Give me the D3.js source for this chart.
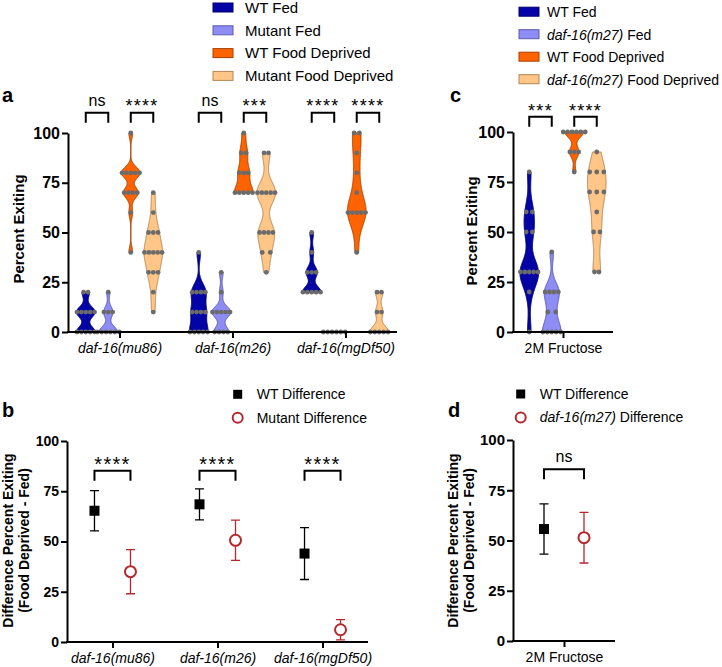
<!DOCTYPE html>
<html>
<head>
<meta charset="utf-8">
<script src="https://cdn.jsdelivr.net/npm/d3@7"></script>
<style>
  body { margin: 0; background: #fff; }
  svg { font-family: Arial, "Liberation Sans", sans-serif; }
  text { white-space: pre; }
</style>
</head>
<body>
<svg id="chart" width="722" height="667"></svg>
<script>
// ---- data ----
const yTicks = [0, 25, 50, 75, 100];

// panel a: percent exiting per plate
const strainsA = ['daf-16(mu86)', 'daf-16(m26)', 'daf-16(mgDf50)'];
const groupsA = ['WT Fed', 'Mutant Fed', 'WT Food Deprived', 'Mutant Food Deprived'];
const wtFedA = [
  [0, 0, 0, 0, 0, 10, 10, 10, 10, 10, 20, 20],
  [0, 0, 0, 0, 0, 10, 10, 10, 10, 20, 20, 20, 20, 40],
  [20, 20, 20, 20, 20, 30, 30, 30, 40, 50]
];
const mutFedA = [
  [0, 0, 0, 0, 0, 0, 10, 10, 10, 20],
  [0, 0, 0, 0, 10, 10, 10, 10, 10, 20, 30],
  [0, 0, 0, 0, 0, 0]
];
const wtFdA = [
  [40, 60, 70, 70, 70, 70, 80, 80, 80, 80, 80, 100],
  [70, 70, 70, 70, 70, 80, 80, 80, 90, 90, 100],
  [40, 60, 60, 60, 60, 60, 70, 80, 90, 100, 100]
];
const mutFdA = [
  [10, 20, 30, 30, 30, 40, 40, 40, 40, 40, 50, 50, 50, 60, 70],
  [30, 40, 40, 50, 50, 50, 50, 70, 70, 70, 70, 70, 90, 90],
  [0, 0, 0, 0, 0, 10, 10, 20, 20]
];
const sigA = [['ns', '****'], ['ns', '***'], ['****', '****']];

// panel c: 2M fructose
const strainsC = ['2M Fructose'];
const groupsC = ['WT Fed', 'daf-16(m27) Fed', 'WT Food Deprived', 'daf-16(m27) Food Deprived'];
const wtFedC = [[0, 20, 30, 30, 30, 30, 30, 50, 50, 60, 60, 80]];
const mutFedC = [[0, 0, 0, 0, 0, 10, 10, 20, 20, 20, 20, 40]];
const wtFdC = [[80, 90, 90, 90, 100, 100, 100, 100, 100, 100]];
const mutFdC = [[30, 30, 50, 50, 60, 70, 70, 70, 80, 80, 80, 90]];
const sigC = [['***', '****']];

// panel b: difference (food deprived - fed), mean and error
const diffGroupsB = ['WT Difference', 'Mutant Difference'];
const wtDiffB = [65.3, 68.5, 44.0];
const wtErrB = [10.0, 7.7, 12.9];
const mutDiffB = [35.0, 50.6, 6.1];
const mutErrB = [11.0, 10.0, 5.0];
const sigB = ['****', '****', '****'];

// panel d
const diffGroupsD = ['WT Difference', 'daf-16(m27) Difference'];
const wtDiffD = [55.7];
const wtErrD = [12.5];
const mutDiffD = [51.4];
const mutErrD = [12.6];
const sigD = ['ns'];

// ---- styles ----
const fills = ['#0303a6', '#8d8df5', '#ff6300', '#ffc688'];
const strokes = ['#00006e', '#5a5aae', '#a84000', '#b58552'];
const dotColor = '#6b6b6b';
const red = '#b5292e';

const svg = d3.select('#chart');

// italic for the gene names
function richText(sel, label) {
  sel.text(null);
  const m = label.match(/^(daf-16\([^)]*\))(.*)$/);
  if (m) {
    sel.append('tspan').attr('font-style', 'italic').text(m[1]);
    if (m[2]) sel.append('tspan').text(m[2]);
  } else {
    sel.text(label);
  }
}

function styleAxis(g, size, bold) {
  g.select('.domain').attr('stroke', '#000').attr('stroke-width', 2);
  g.selectAll('.tick line').attr('stroke', '#000').attr('stroke-width', 2);
  g.selectAll('.tick text').attr('fill', '#000').attr('font-size', size)
    .attr('font-weight', bold ? 'bold' : 'normal');
}

function drawAxes(o, x, y) {
  const ya = svg.append('g').attr('transform', `translate(${o.xL},0)`)
    .call(d3.axisLeft(y).tickValues(yTicks).tickSize(6).tickPadding(2).tickSizeOuter(0));
  styleAxis(ya, o.tickFont, true);
  const xa = svg.append('g').attr('transform', `translate(0,${o.yB})`)
    .call(d3.axisBottom(x).tickSize(6).tickPadding(5).tickSizeOuter(0));
  styleAxis(xa, 14, false);
  xa.select('.domain').attr('d', `M${o.xL - 1},0H${o.xR}`);
  xa.selectAll('.tick text').each(function (d) { richText(d3.select(this), d); });
}

function bracket(x1, x2, yTop, yBot, label, textY, fs) {
  svg.append('path')
    .attr('d', `M${x1},${yBot}V${yTop}H${x2}V${yBot}`)
    .attr('fill', 'none').attr('stroke', '#000').attr('stroke-width', 2);
  const star = label.indexOf('*') >= 0;
  svg.append('text')
    .attr('x', (x1 + x2) / 2).attr('y', textY)
    .attr('text-anchor', 'middle')
    .attr('font-size', star ? fs : 16)
    .attr('letter-spacing', star ? 1.3 : 0)
    .text(label);
}

function bandwidth(vals) {
  const sd = d3.deviation(vals) || 0;
  const iqr = (d3.quantile(vals, 0.75) - d3.quantile(vals, 0.25)) / 1.34;
  const s = iqr > 0 ? Math.min(sd, iqr) : sd;
  return Math.max(2.5, 0.9 * s * Math.pow(vals.length, -0.2) * 0.7);
}

function violin(vals, cx, y, k) {
  const maxHalf = 9.3;
  const lo = d3.min(vals), hi = d3.max(vals);
  let half = () => maxHalf;
  if (hi > lo) {
    const h = bandwidth(vals);
    const dens = v => d3.sum(vals, d => Math.exp(-0.5 * ((v - d) / h) ** 2));
    const samples = d3.range(lo, hi + 0.001, 0.25).map(v => [v, dens(v)]);
    const top = d3.max(samples, s => s[1]);
    half = v => maxHalf * dens(v) / top;
    const area = d3.area()
      .y(d => y(d[0]))
      .x0(d => cx - maxHalf * d[1] / top)
      .x1(d => cx + maxHalf * d[1] / top);
    svg.append('path').attr('d', area(samples))
      .attr('fill', fills[k]).attr('stroke', strokes[k]).attr('stroke-width', 1);
  }
  // dots, spread across the violin at each value
  d3.rollups(vals, v => v.length, d => d).forEach(([v, n]) => {
    const w = n > 1 ? Math.max(half(v) - 1.5, (n - 1) * 2.2) : 0;
    d3.range(n).forEach(i => {
      svg.append('circle')
        .attr('cx', n > 1 ? cx - w + i * 2 * w / (n - 1) : cx)
        .attr('cy', y(v)).attr('r', 2.4).attr('fill', dotColor);
    });
  });
}

function violinPanel(o) {
  const y = d3.scaleLinear().domain([0, 100]).range([o.yB, o.yT]);
  const x = d3.scalePoint().domain(o.cats).range([o.xL, o.xR]).padding(o.pad);
  const off = d3.scaleBand().domain(o.groups).range([-45, 45]);
  const pos = (c, g) => x(c) + off(g) + off.bandwidth() / 2;

  o.cats.forEach((c, i) => {
    o.groups.forEach((g, j) => violin(o.series[j][i], pos(c, g), y, j));
    [[0, 1], [2, 3]].forEach(([a, b], s) => {
      bracket(pos(c, o.groups[a]), pos(c, o.groups[b]), o.brTop, o.brTop + 10,
        o.sig[i][s], o.sig[i][s].indexOf('*') >= 0 ? o.starY : o.nsY, 18);
    });
  });
  drawAxes(o, x, y);

  // legend
  o.groups.forEach((g, j) => {
    const cy = o.legY + j * o.legStep;
    svg.append('rect').attr('x', o.legX).attr('y', cy - 4.5).attr('width', 20).attr('height', 9)
      .attr('fill', fills[j]).attr('stroke', strokes[j]).attr('stroke-width', 1);
    richText(svg.append('text').attr('x', o.legX + o.legGap).attr('y', cy + 5.3)
      .attr('font-size', o.legFont), g);
  });
}

function diffPanel(o) {
  const y = d3.scaleLinear().domain([0, 100]).range([o.yB, o.yT]);
  const x = d3.scalePoint().domain(o.cats).range([o.xL, o.xR]).padding(o.pad);
  const off = d3.scaleBand().domain(o.groups).range([-o.spread, o.spread]);
  const pos = (c, g) => x(c) + off(g) + off.bandwidth() / 2;
  const colors = ['#000', red];

  o.cats.forEach((c, i) => {
    [[o.wt, o.wtErr], [o.mut, o.mutErr]].forEach(([m, e], j) => {
      const cx = pos(c, o.groups[j]);
      const col = colors[j];
      svg.append('path')
        .attr('d', `M${cx},${y(m[i] + e[i])}V${y(m[i] - e[i])}` +
          `M${cx - 4.5},${y(m[i] + e[i])}H${cx + 4.5}M${cx - 4.5},${y(m[i] - e[i])}H${cx + 4.5}`)
        .attr('stroke', col).attr('stroke-width', 1.3).attr('fill', 'none');
      if (j === 0) {
        svg.append('rect').attr('x', cx - 5).attr('y', y(m[i]) - 5)
          .attr('width', 10).attr('height', 10).attr('fill', '#000');
      } else {
        svg.append('circle').attr('cx', cx).attr('cy', y(m[i])).attr('r', 5.5)
          .attr('fill', '#fff').attr('stroke', red).attr('stroke-width', 2);
      }
    });
    bracket(pos(c, o.groups[0]), pos(c, o.groups[1]), o.brTop, o.brTop + 10,
      o.sig[i], o.sig[i].indexOf('*') >= 0 ? o.starY : o.nsY, 20);
  });
  drawAxes(o, x, y);

  // legend
  svg.append('rect').attr('x', o.legX - 4.5).attr('y', o.legY - 4.5)
    .attr('width', 9).attr('height', 9).attr('fill', '#000');
  svg.append('circle').attr('cx', o.legX).attr('cy', o.legY + 23.4).attr('r', 5)
    .attr('fill', '#fff').attr('stroke', red).attr('stroke-width', 2);
  o.groups.forEach((g, j) => {
    richText(svg.append('text').attr('x', o.legX + 19).attr('y', o.legY + j * 23.4 + 5)
      .attr('font-size', 14), g);
  });
}

function yLabel(lines, xs, cy, size) {
  lines.forEach((t, i) => {
    svg.append('text')
      .attr('transform', `translate(${xs[i]},${cy}) rotate(-90)`)
      .attr('text-anchor', 'middle').attr('font-weight', 'bold')
      .attr('font-size', size).text(t);
  });
}

function panelLetter(t, x, y) {
  svg.append('text').attr('x', x).attr('y', y).attr('font-weight', 'bold')
    .attr('font-size', 20).text(t);
}

// ---- panels ----
violinPanel({
  cats: strainsA, groups: groupsA, series: [wtFedA, mutFedA, wtFdA, mutFdA], sig: sigA,
  xL: 68, xR: 397, yB: 332, yT: 133, pad: 0.456, tickFont: 16,
  brTop: 112.7, starY: 112.4, nsY: 105.5,
  legX: 213, legY: 7.5, legStep: 22.8, legGap: 32, legFont: 15
});
violinPanel({
  cats: strainsC, groups: groupsC, series: [wtFedC, mutFedC, wtFdC, mutFdC], sig: sigC,
  xL: 513, xR: 613, yB: 332, yT: 132, pad: 0.5, tickFont: 16,
  brTop: 116.7, starY: 117, nsY: 110,
  legX: 519, legY: 11.7, legStep: 22.5, legGap: 28, legFont: 14
});
diffPanel({
  cats: strainsA, groups: diffGroupsB, wt: wtDiffB, wtErr: wtErrB, mut: mutDiffB, mutErr: mutErrB,
  sig: sigB, spread: 36, xL: 67, xR: 368, yB: 642, yT: 441, pad: 0.433, tickFont: 14,
  brTop: 470.7, starY: 471.2, nsY: 462, legX: 237.7, legY: 394.3
});
diffPanel({
  cats: strainsC, groups: diffGroupsD, wt: wtDiffD, wtErr: wtErrD, mut: mutDiffD, mutErr: mutErrD,
  sig: sigD, spread: 40, xL: 513, xR: 615, yB: 641, yT: 440, pad: 0.5, tickFont: 15,
  brTop: 469.3, starY: 471, nsY: 461.7, legX: 520.7, legY: 394
});

yLabel(['Percent Exiting'], [24], 229, 15);
yLabel(['Percent Exiting'], [477], 231, 15);
yLabel(['Difference Percent Exiting', '(Food Deprived - Fed)'], [12.5, 28.5], 540.5, 14);
yLabel(['Difference Percent Exiting', '(Food Deprived - Fed)'], [458, 474], 540.5, 14);

panelLetter('a', 2, 102);
panelLetter('c', 450, 102);
panelLetter('b', 2, 417);
panelLetter('d', 448, 417);
</script>
</body>
</html>
